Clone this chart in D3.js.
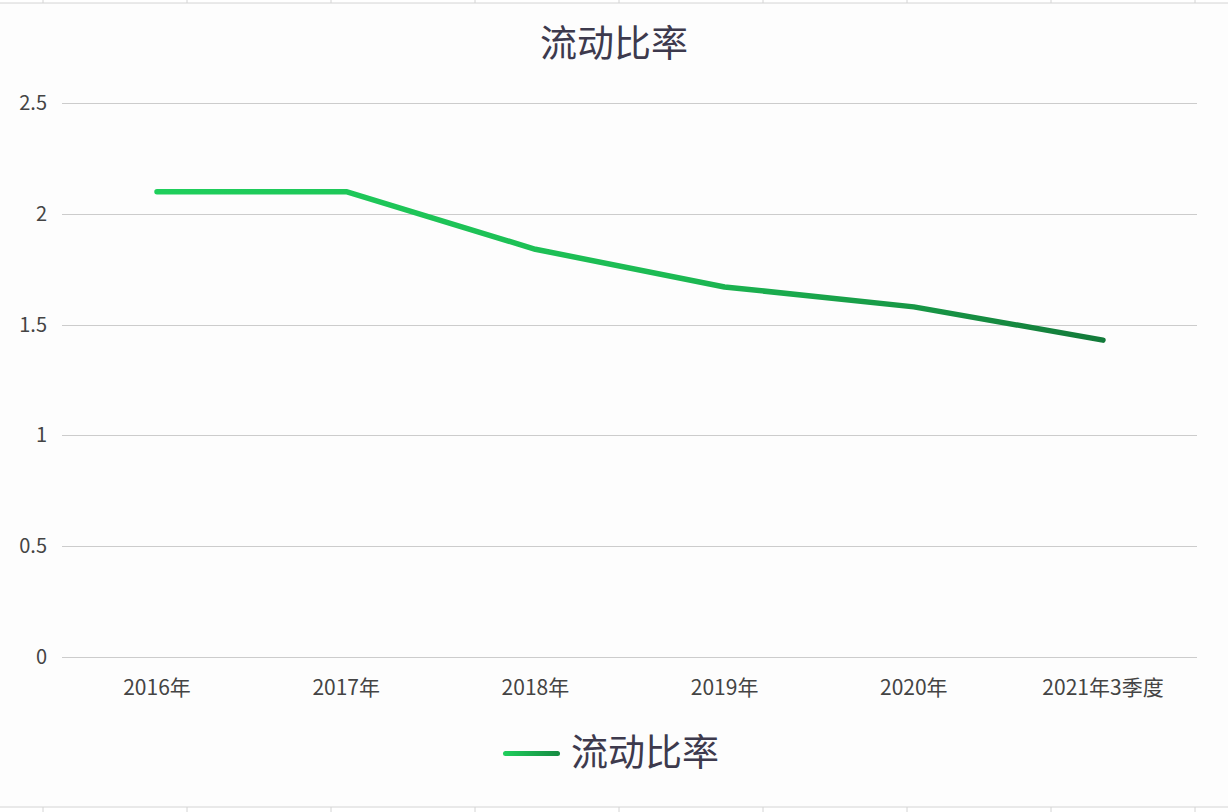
<!DOCTYPE html>
<html><head><meta charset="utf-8">
<script src="https://cdn.jsdelivr.net/npm/d3@7"></script>
<style>
html,body{margin:0;padding:0;background:#fff;}
svg{display:block;}
text{font-family:"Noto Sans CJK SC","Noto Sans",sans-serif;}
</style></head>
<body>
<svg id="c" width="1228" height="812"></svg>
<script>
const categories = ["2016年","2017年","2018年","2019年","2020年","2021年3季度"];
const values = [2.10, 2.10, 1.84, 1.67, 1.58, 1.43];
const yTicks = [0, 0.5, 1, 1.5, 2, 2.5];
const seriesName = "流动比率";
const chartTitle = "流动比率";

(function(){
const W = 1228, H = 812;
const svg = d3.select("#c");

svg.append("rect").attr("x",0).attr("y",0).attr("width",W).attr("height",H).attr("fill","#ffffff");
svg.append("rect").attr("x",0).attr("y",3).attr("width",W).attr("height",804).attr("fill","#fdfdfd");
const cellX = [43,187,331,475,619,763,907,1051,1195];
svg.append("line").attr("x1",0).attr("x2",W).attr("y1",3).attr("y2",3).attr("stroke","#d4d4d4").attr("stroke-width",1);
svg.append("line").attr("x1",0).attr("x2",W).attr("y1",807).attr("y2",807).attr("stroke","#d4d4d4").attr("stroke-width",1);
cellX.forEach(xx=>{
  svg.append("line").attr("x1",xx).attr("x2",xx).attr("y1",0).attr("y2",3).attr("stroke","#d4d4d4");
  svg.append("line").attr("x1",xx).attr("x2",xx).attr("y1",807).attr("y2",812).attr("stroke","#d4d4d4");
});

const pl = 62, pr = 1197, pt = 103, pb = 657;
const x = d3.scalePoint().domain(categories).range([157, 1103]);
const y = d3.scaleLinear().domain([0, 2.5]).range([pb, pt]);

svg.append("g").selectAll("line").data(yTicks).join("line")
  .attr("x1", pl).attr("x2", pr)
  .attr("y1", d=>Math.round(y(d))+0.5).attr("y2", d=>Math.round(y(d))+0.5)
  .attr("stroke", "#cccccc").attr("stroke-width", 1);

svg.append("g").selectAll("text").data(yTicks).join("text")
  .attr("x", 47).attr("y", d=>y(d)).attr("dy","0.35em")
  .attr("text-anchor","end").attr("font-size",20).attr("fill","#444")
  .text(d=>d3.format("")(d));

svg.append("g").selectAll("text").data(categories).join("text")
  .attr("x", d=>x(d)).attr("y", 688).attr("dy","0.35em")
  .attr("text-anchor","middle").attr("font-size",21).attr("fill","#444")
  .text(d=>d);

const defs = svg.append("defs");
const g = defs.append("linearGradient").attr("id","lg").attr("gradientUnits","userSpaceOnUse")
  .attr("x1", x(categories[0])).attr("x2", x(categories[categories.length-1])).attr("y1",0).attr("y2",0);
g.append("stop").attr("offset","0%").attr("stop-color","#1fcf5c");
g.append("stop").attr("offset","55%").attr("stop-color","#1cba53");
g.append("stop").attr("offset","100%").attr("stop-color","#137a3a");
const lg2 = defs.append("linearGradient").attr("id","lg2");
lg2.append("stop").attr("offset","0%").attr("stop-color","#1fcf5c");
lg2.append("stop").attr("offset","100%").attr("stop-color","#168a42");

const line = d3.line().x((d,i)=>x(categories[i])).y(d=>y(d));
svg.append("path").datum(values).attr("d", line)
  .attr("fill","none").attr("stroke","url(#lg)").attr("stroke-width",5.5)
  .attr("stroke-linecap","round").attr("stroke-linejoin","round");

svg.append("text").attr("x", 614).attr("y", 44).attr("dy","0.35em")
  .attr("text-anchor","middle").attr("font-size",37).attr("fill","#3d3a4d").text(chartTitle);

svg.append("rect").attr("x",503).attr("y",751).attr("width",57).attr("height",5).attr("rx",2.5)
  .attr("fill","url(#lg2)");
svg.append("text").attr("x",571).attr("y",753).attr("dy","0.35em")
  .attr("font-size",37).attr("fill","#3d3a4d").text(seriesName);
})();
</script>
</body></html>
